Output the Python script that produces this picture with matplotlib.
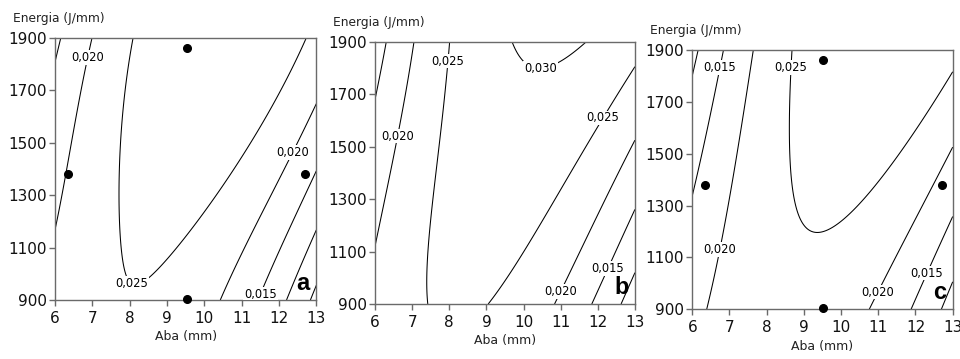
import numpy as np
import matplotlib
matplotlib.use("Agg")
import matplotlib.pyplot as plt

plt.rcParams["font.family"] = ["DejaVu Sans"]

# Contour levels of the response (mm)
niveis = [0.005, 0.010, 0.015, 0.020, 0.025, 0.030]

# Points lying on each iso-line: Aba (mm), Energia (J/mm), level
# (panel a ends with two estimated values inside the 0,025 region)
a_aba = [12.88, 13.0,
         12.2, 12.6, 13.0,
         6.0, 6.16, 11.4, 12.2, 13.0,
         6.0, 6.34, 6.65, 6.94, 10.37, 11.0, 11.7, 12.4, 13.0,
         7.99, 7.87, 7.70, 7.70, 7.83, 8.1, 8.54, 9.53, 10.78, 11.67, 12.83,
         10.3, 9.5]
a_energia = [900, 950,
             900, 1037, 1174,
             1797, 1900, 900, 1157, 1415,
             1186, 1384, 1650, 1900, 900, 1083, 1286, 1489, 1663,
             1900, 1663, 1282, 1053, 977, 945, 989, 1155, 1332, 1511, 1900,
             1900, 1400]
a_nivel = ([0.005] * 2 + [0.010] * 3 + [0.015] * 5 + [0.020] * 9
           + [0.025] * 11 + [0.0285, 0.0265])

b_aba = [12.6, 13.0,
         6.0, 6.31, 11.83, 12.4, 13.0,
         6.0, 6.3, 6.6, 6.85, 7.06, 10.85, 11.9, 13.0,
         7.39, 7.7, 8.02, 9.10, 10.4, 11.7, 13.0,
         9.71, 9.99, 10.4, 11.06, 11.73]
b_energia = [900, 1017,
             1679, 1900, 900, 1070, 1246,
             1106, 1330, 1550, 1750, 1900, 900, 1220, 1541,
             900, 1400, 1900, 900, 1200, 1500, 1806,
             1900, 1824, 1805, 1824, 1900]
b_nivel = [0.010] * 2 + [0.015] * 5 + [0.020] * 8 + [0.025] * 7 + [0.030] * 5

c_aba = [6.0, 6.16, 12.70, 13.0,
         6.0, 6.4, 6.83, 11.87, 12.45, 13.0,
         6.39, 6.85, 7.28, 7.64, 10.76, 11.9, 13.0,
         8.69, 8.69, 8.73, 8.89, 9.30, 9.61, 10.33, 11.40, 13.0]
c_energia = [1797, 1900, 900, 1006,
             1321, 1600, 1900, 900, 1082, 1264,
             900, 1250, 1579, 1900, 900, 1215, 1527,
             1900, 1514, 1321, 1244, 1199, 1218, 1296, 1450, 1816]
c_nivel = [0.010] * 4 + [0.015] * 6 + [0.020] * 7 + [0.025] * 9

# Experimental design points (Aba in inches converted to mm)
pontos_aba = [6.35, 9.525, 9.525, 12.7]
pontos_energia = [1380, 1860, 905, 1380]

x_ticks = [6, 7, 8, 9, 10, 11, 12, 13]
y_ticks = [900, 1100, 1300, 1500, 1700, 1900]


def base(x, y, grau=3):
    u = (np.asarray(x, float) - 9.5) / 3.5
    v = (np.asarray(y, float) - 1400.0) / 500.0
    return np.stack([u ** i * v ** j for i in range(grau + 1)
                     for j in range(grau + 1 - i)], axis=-1)


def superficie(aba, energia, nivel, X, Y, grau=3):
    coef, *_ = np.linalg.lstsq(base(aba, energia, grau), np.asarray(nivel), rcond=None)
    return base(X, Y, grau) @ coef


def fmt(v):
    return f"{v:.3f}".replace(".", ",")


paineis = [
    dict(dados=(a_aba, a_energia, a_nivel), letra="a", pontos=True,
         rect=(0.0573, 0.1643, 0.2722, 0.7298),
         rotulos=[(6.84, 1826), (8.0, 953), (12.3, 1469), (11.48, 924)]),
    dict(dados=(b_aba, b_energia, b_nivel), letra="b", pontos=False,
         rect=(0.3906, 0.1532, 0.2708, 0.7298),
         rotulos=[(6.61, 1541), (7.95, 1827), (10.46, 1789), (12.12, 1612),
                  (10.98, 950), (12.2, 1040)]),
    dict(dados=(c_aba, c_energia, c_nivel), letra="c", pontos=True,
         rect=(0.7211, 0.1384, 0.2713, 0.7223),
         rotulos=[(6.72, 1833), (8.69, 1833), (6.69, 1132), (10.98, 967),
                  (12.27, 1042)]),
]

fig = plt.figure(figsize=(9.6, 3.59), dpi=100)
X, Y = np.meshgrid(np.linspace(6, 13, 400), np.linspace(900, 1900, 400))
cor_eixo = "#6a6a6a"

for p in paineis:
    ax = fig.add_axes(p["rect"])
    Z = superficie(*p["dados"], X, Y)
    cs = ax.contour(X, Y, Z, levels=niveis, colors="black", linewidths=0.75)
    ax.set_xlim(6, 13)
    ax.set_ylim(900, 1900)
    textos = ax.clabel(cs, fmt=fmt, fontsize=8.3, inline=False,
                       manual=p["rotulos"])
    for t in textos:
        t.set_rotation(0)
        t.set_color("black")
        t.set_bbox(dict(facecolor="white", edgecolor="none", pad=0.6))
    if p["pontos"]:
        ax.plot(pontos_aba, pontos_energia, "o", color="black", ms=5.5,
                clip_on=False, zorder=5)
    ax.set_xticks(x_ticks)
    ax.set_yticks(y_ticks)
    ax.tick_params(direction="out", length=4, width=1, color=cor_eixo,
                   labelsize=11, labelcolor="#111111")
    ax.tick_params(axis="y", pad=2)
    ax.tick_params(axis="x", pad=4)
    for s in ax.spines.values():
        s.set_color(cor_eixo)
        s.set_linewidth(1)
    ax.set_xlabel("Aba (mm)", fontsize=9, color="#222222", labelpad=3)
    ax.annotate("Energia (J/mm)", xy=(0, 1), xycoords="axes fraction",
                xytext=(-42, 13), textcoords="offset pixels",
                ha="left", va="bottom", fontsize=8.8, color="#222222")
    ax.text(0.975, 0.02, p["letra"], transform=ax.transAxes, ha="right",
            va="bottom", fontsize=17, fontweight="bold",
            family="Liberation Sans", color="black", zorder=6)

fig.savefig("out.png", dpi=100)
